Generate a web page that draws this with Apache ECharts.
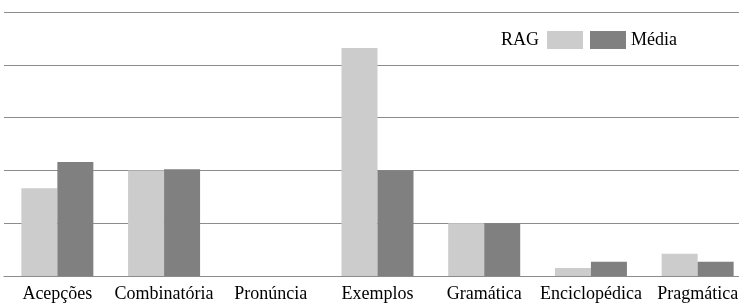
<!DOCTYPE html>
<html>
<head>
<meta charset="utf-8">
<script src="https://cdn.jsdelivr.net/npm/echarts@6/dist/echarts.min.js"></script>
<style>
html,body{margin:0;padding:0;background:#fff;}
#c{width:739px;height:305px;}
</style>
</head>
<body>
<div id="c"></div>
<script>
const categories = ['Acepções', 'Combinatória', 'Pronúncia', 'Exemplos', 'Gramática', 'Enciclopédica', 'Pragmática'];
const ragValues = [16.6, 20.0, 0, 43.2, 10.0, 1.5, 4.2];
const mediaValues = [21.6, 20.2, 0, 20.0, 10.0, 2.7, 2.7];
const seriesNames = ['RAG', 'Média'];

const chart = echarts.init(document.getElementById('c'));
const font = 'Liberation Serif';
chart.setOption({
  animation: false,
  backgroundColor: '#fff',
  grid: { left: 4, right: -12, top: 12, bottom: 29, containLabel: false, outerBoundsMode: 'none' },
  legend: [
    { data: [seriesNames[0]], left: 501, top: 31, padding: 0, align: 'right',
      itemWidth: 36, itemHeight: 18, icon: 'rect',
      textStyle: { fontFamily: font, fontSize: 18, color: '#000', padding: [0, 3, 0, 0] } },
    { data: [seriesNames[1]], left: 590, top: 31, padding: 0, align: 'left',
      itemWidth: 36, itemHeight: 18, icon: 'rect',
      textStyle: { fontFamily: font, fontSize: 18, color: '#000' } }
  ],
  xAxis: {
    type: 'category',
    data: categories,
    axisTick: { show: false },
    axisLine: { lineStyle: { color: '#8c8c8c', width: 1 } },
    axisLabel: { interval: 0, fontFamily: font, fontSize: 18, color: '#000', margin: 9 }
  },
  yAxis: {
    type: 'value', min: 0, max: 50, interval: 10,
    axisLabel: { show: false }, axisLine: { show: false }, axisTick: { show: false },
    splitLine: { lineStyle: { color: '#8c8c8c', width: 1 } }
  },
  series: [
    { name: seriesNames[0], type: 'bar', data: ragValues, barWidth: 36, barGap: '0%',
      itemStyle: { color: '#cccccc' } },
    { name: seriesNames[1], type: 'bar', data: mediaValues, barWidth: 36, barGap: '0%',
      itemStyle: { color: '#808080' } }
  ]
});
</script>
</body>
</html>
